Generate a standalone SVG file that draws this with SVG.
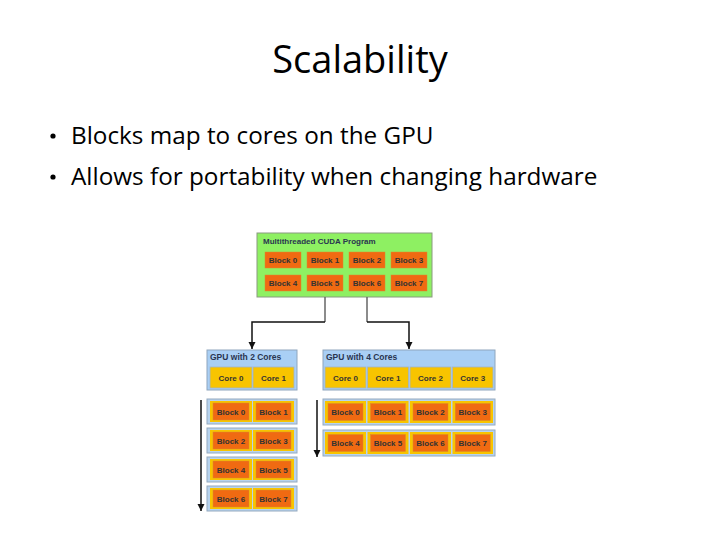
<svg xmlns="http://www.w3.org/2000/svg" width="720" height="540" viewBox="0 0 720 540">
<defs>
<style>
.title{font-family:"Open Sans","Liberation Sans",sans-serif;font-size:38px;fill:#000}
.bul{font-family:"Open Sans","Liberation Sans",sans-serif;font-size:24.3px;fill:#000}
.dot{fill:#000}
.lbl{font-family:"Liberation Sans","DejaVu Sans",sans-serif;font-size:8px;font-weight:bold;fill:#333;text-anchor:middle}
.hdr{font-family:"Liberation Sans","DejaVu Sans",sans-serif;font-size:8px;font-weight:bold;fill:#2a3550}
.prog{fill:#8ef062;stroke:#8a9a80;stroke-width:1}
.blk{fill:#f06a12;stroke:#d88a30;stroke-width:0.5}
.gpu{fill:#a9cff5;stroke:#8fa6bd;stroke-width:1}
.row{fill:#b7d3ee;stroke:#95aac0;stroke-width:1}
.core{fill:#f8c400;stroke:#a0b4c8;stroke-width:0.8}
.cell{fill:#f8c400}
.conn{fill:none;stroke:#111;stroke-width:1.5}
.stub{fill:none;stroke:#666;stroke-width:1.5}
</style>
<marker id="arr" viewBox="0 0 10 10" refX="10" refY="5" markerWidth="5" markerHeight="5" orient="auto" markerUnits="strokeWidth">
<path d="M0 0 L10 5 L0 10 Z" fill="#111"/>
</marker>
</defs>
<rect width="720" height="540" fill="#fff"/>
<text class="title" x="360" y="73" text-anchor="middle">Scalability</text>
<circle class="dot" cx="53" cy="136" r="2.6"/>
<text class="bul" x="71" y="144">Blocks map to cores on the GPU</text>
<circle class="dot" cx="53" cy="177" r="2.6"/>
<text class="bul" x="71" y="185">Allows for portability when changing hardware</text>

<g id="program">
<rect class="prog" x="257" y="233" width="175" height="64"/>
<text class="hdr" x="263" y="244">Multithreaded CUDA Program</text>
<rect class="blk" x="265" y="252" width="36" height="16"/><text class="lbl" x="283" y="263">Block 0</text>
<rect class="blk" x="307" y="252" width="36" height="16"/><text class="lbl" x="325" y="263">Block 1</text>
<rect class="blk" x="349" y="252" width="36" height="16"/><text class="lbl" x="367" y="263">Block 2</text>
<rect class="blk" x="391" y="252" width="36" height="16"/><text class="lbl" x="409" y="263">Block 3</text>
<rect class="blk" x="265" y="275" width="36" height="16"/><text class="lbl" x="283" y="286">Block 4</text>
<rect class="blk" x="307" y="275" width="36" height="16"/><text class="lbl" x="325" y="286">Block 5</text>
<rect class="blk" x="349" y="275" width="36" height="16"/><text class="lbl" x="367" y="286">Block 6</text>
<rect class="blk" x="391" y="275" width="36" height="16"/><text class="lbl" x="409" y="286">Block 7</text>
</g>

<g id="gpu2">
<rect class="gpu" x="207" y="350" width="90" height="40"/>
<text class="hdr" x="210" y="360" style="font-size:8.5px">GPU with 2 Cores</text>
<rect class="core" x="210" y="367" width="42" height="21"/><text class="lbl" x="231" y="381">Core 0</text>
<rect class="core" x="253" y="367" width="41" height="21"/><text class="lbl" x="273.5" y="381">Core 1</text>
</g>

<g id="gpu2-blocks">
<rect class="row" x="207" y="399" width="90" height="25"/>
<rect class="cell" x="210" y="401" width="42" height="21"/><rect class="cell" x="253" y="401" width="41" height="21"/>
<rect class="blk" x="213" y="403" width="36" height="17"/><text class="lbl" x="231" y="415">Block 0</text>
<rect class="blk" x="256" y="403" width="35" height="17"/><text class="lbl" x="273.5" y="415">Block 1</text>

<rect class="row" x="207" y="428" width="90" height="25"/>
<rect class="cell" x="210" y="430" width="42" height="21"/><rect class="cell" x="253" y="430" width="41" height="21"/>
<rect class="blk" x="213" y="432" width="36" height="17"/><text class="lbl" x="231" y="444">Block 2</text>
<rect class="blk" x="256" y="432" width="35" height="17"/><text class="lbl" x="273.5" y="444">Block 3</text>

<rect class="row" x="207" y="457" width="90" height="25"/>
<rect class="cell" x="210" y="459" width="42" height="21"/><rect class="cell" x="253" y="459" width="41" height="21"/>
<rect class="blk" x="213" y="461" width="36" height="17"/><text class="lbl" x="231" y="473">Block 4</text>
<rect class="blk" x="256" y="461" width="35" height="17"/><text class="lbl" x="273.5" y="473">Block 5</text>

<rect class="row" x="207" y="486" width="90" height="25"/>
<rect class="cell" x="210" y="488" width="42" height="21"/><rect class="cell" x="253" y="488" width="41" height="21"/>
<rect class="blk" x="213" y="490" width="36" height="17"/><text class="lbl" x="231" y="502">Block 6</text>
<rect class="blk" x="256" y="490" width="35" height="17"/><text class="lbl" x="273.5" y="502">Block 7</text>
</g>

<g id="gpu4">
<rect class="gpu" x="323" y="350" width="172" height="40"/>
<text class="hdr" x="326" y="360" style="font-size:8.5px">GPU with 4 Cores</text>
<rect class="core" x="325" y="367" width="41" height="21"/><text class="lbl" x="345.5" y="381">Core 0</text>
<rect class="core" x="367.5" y="367" width="41" height="21"/><text class="lbl" x="388" y="381">Core 1</text>
<rect class="core" x="410" y="367" width="41" height="21"/><text class="lbl" x="430.5" y="381">Core 2</text>
<rect class="core" x="452.5" y="367" width="40.5" height="21"/><text class="lbl" x="472.75" y="381">Core 3</text>
</g>

<g id="gpu4-blocks">
<rect class="row" x="323" y="399" width="172" height="26"/>
<rect class="cell" x="325" y="401" width="41" height="22"/><rect class="cell" x="367.5" y="401" width="41" height="22"/><rect class="cell" x="410" y="401" width="41" height="22"/><rect class="cell" x="452.5" y="401" width="40.5" height="22"/>
<rect class="blk" x="328" y="403.5" width="35" height="17"/><text class="lbl" x="345.5" y="415">Block 0</text>
<rect class="blk" x="370.5" y="403.5" width="35" height="17"/><text class="lbl" x="388" y="415">Block 1</text>
<rect class="blk" x="413" y="403.5" width="35" height="17"/><text class="lbl" x="430.5" y="415">Block 2</text>
<rect class="blk" x="455.25" y="403.5" width="35" height="17"/><text class="lbl" x="472.75" y="415">Block 3</text>

<rect class="row" x="323" y="430" width="172" height="26"/>
<rect class="cell" x="325" y="432" width="41" height="22"/><rect class="cell" x="367.5" y="432" width="41" height="22"/><rect class="cell" x="410" y="432" width="41" height="22"/><rect class="cell" x="452.5" y="432" width="40.5" height="22"/>
<rect class="blk" x="328" y="434.5" width="35" height="17"/><text class="lbl" x="345.5" y="446">Block 4</text>
<rect class="blk" x="370.5" y="434.5" width="35" height="17"/><text class="lbl" x="388" y="446">Block 5</text>
<rect class="blk" x="413" y="434.5" width="35" height="17"/><text class="lbl" x="430.5" y="446">Block 6</text>
<rect class="blk" x="455.25" y="434.5" width="35" height="17"/><text class="lbl" x="472.75" y="446">Block 7</text>
</g>

<g id="connectors">
<path class="stub" d="M325 297 V322"/>
<path class="conn" d="M325 322 H252 V349" marker-end="url(#arr)"/>
<path class="stub" d="M367 297 V322"/>
<path class="conn" d="M367 322 H409 V349" marker-end="url(#arr)"/>
<path class="conn" d="M201 400 V511" marker-end="url(#arr)"/>
<path class="conn" d="M317 400 V457" marker-end="url(#arr)"/>
</g>
</svg>
